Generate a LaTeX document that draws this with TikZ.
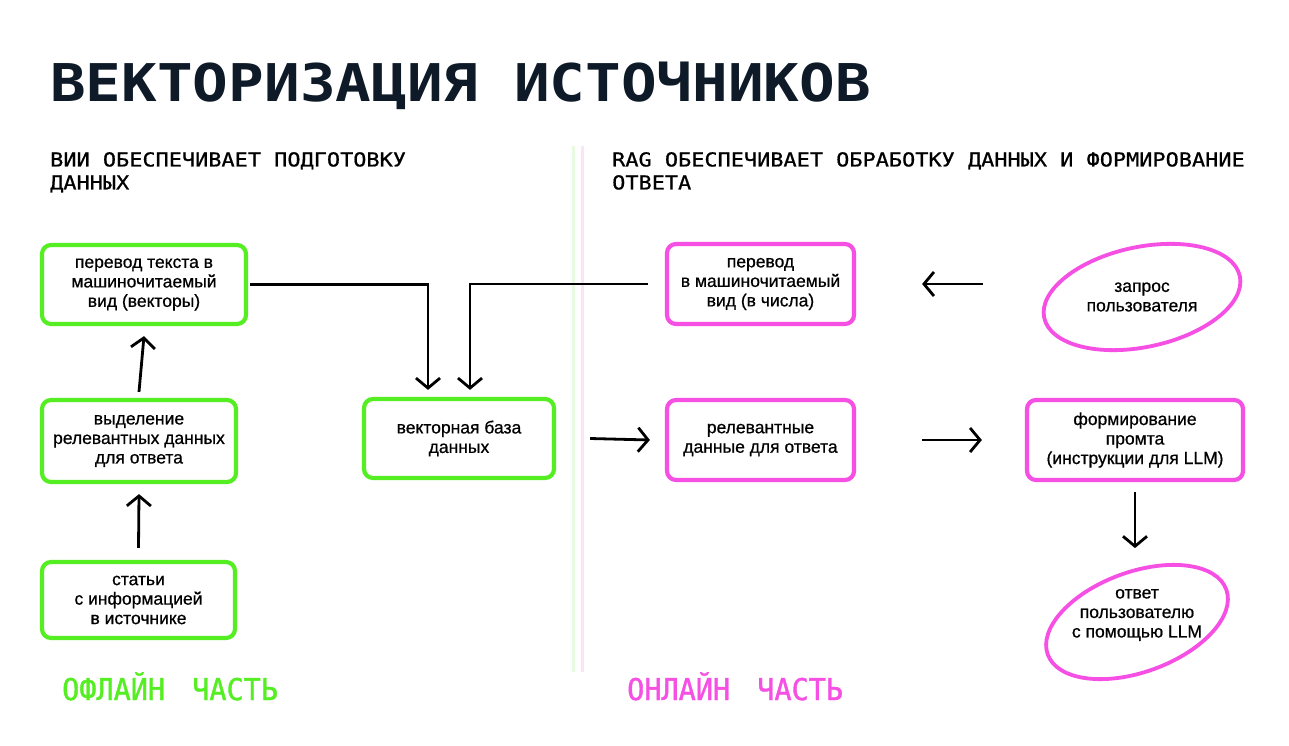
\documentclass[tikz,border=0pt]{standalone}
\usepackage{fontspec}
\setmainfont{Liberation Sans}[FakeBold=0.6]
\newfontfamily\nodefont{Liberation Sans}[FakeBold=0.7]
\newfontfamily\headfont{DejaVu Sans Mono}[FakeStretch=1.14,FakeBold=0.8]
\newfontfamily\titlefont{DejaVu Sans Mono Bold}[FakeStretch=1.14]
\newfontfamily\footfont{DejaVu Sans Mono}[FakeStretch=0.95,FakeBold=1.2]
\usetikzlibrary{arrows.meta,shapes.geometric}
\definecolor{hgreen}{HTML}{55EE22}
\definecolor{hpink}{HTML}{F54FE3}
\definecolor{navy}{HTML}{0E1A28}
\definecolor{lgreen}{HTML}{E8FBE2}
\definecolor{lpink}{HTML}{FCE3F8}
\begin{document}
\begin{tikzpicture}[x=1pt,y=-1pt,
  boxtext/.style={align=center,font=\nodefont\fontsize{17.5}{19.5}\selectfont,inner sep=0pt},
  gbox/.style={boxtext,draw=hgreen,line width=4.2pt,rounded corners=9pt},
  pbox/.style={boxtext,draw=hpink,line width=4.2pt,rounded corners=9pt},
  conn/.style={line width=2.8pt,-{Straight Barb[length=10pt,width=24pt,line width=2.8pt]}},
  heading/.style={anchor=north west,inner sep=0pt,align=left,font=\headfont\fontsize{19.2}{23}\selectfont},
 ]
\useasboundingbox[fill=white] (0,0) rectangle (1289,746);

% dividers
\draw[lgreen,line width=3pt] (573,146) -- (573,672);
\draw[lpink,line width=3pt] (582,146) -- (582,672);

% title and headings
\node[anchor=north west,inner sep=0pt,text=navy,font=\titlefont\fontsize{52}{60}\selectfont] (title) at (50,62) {ВЕКТОРИЗАЦИЯ ИСТОЧНИКОВ};
\node[heading] (hl) at (50,152) {ВИИ ОБЕСПЕЧИВАЕТ ПОДГОТОВКУ\\ДАННЫХ};
\node[heading] (hr) at (612,152) {RAG ОБЕСПЕЧИВАЕТ ОБРАБОТКУ ДАННЫХ И ФОРМИРОВАНИЕ\\ОТВЕТА};
\node[anchor=north west,inner sep=0pt,text=hgreen,font=\footfont\fontsize{30}{34}\selectfont] (fl) at (62,672) {ОФЛАЙН\hspace{10pt} ЧАСТЬ};
\node[anchor=north west,inner sep=0pt,text=hpink,font=\footfont\fontsize{30}{34}\selectfont] (fr) at (627,672) {ОНЛАЙН\hspace{10pt} ЧАСТЬ};

% green boxes
\node[gbox,minimum width=204,minimum height=79] (A) at (144,284.5) {перевод текста в\\машиночитаемый\\вид (векторы)};
\node[gbox,minimum width=194,minimum height=82] (B) at (139,441) {выделение\\релевантных данных\\для ответа};
\node[gbox,minimum width=193,minimum height=76] (C) at (138.5,600) {статьи\\с информацией\\в источнике};
\node[gbox,minimum width=190,minimum height=79] (D) at (459,438.5) {векторная база\\данных};

% pink boxes
\node[pbox,minimum width=187,minimum height=80] (E) at (760.5,284) {перевод\\в машиночитаемый\\вид (в числа)};
\node[pbox,minimum width=187,minimum height=80] (F) at (760.5,440) {релевантные\\данные для ответа};
\node[pbox,minimum width=216,minimum height=80] (G) at (1135,440) {формирование\\промта\\(инструкции для LLM)};

% ellipses
\node[ellipse,draw=hpink,line width=3.8pt,inner sep=0pt,minimum width=200,minimum height=100,rotate=12] (H) at (1142,297) {};
\node[boxtext] (Ht) at (H.center) {запрос\\пользователя};
\node[ellipse,draw=hpink,line width=3.8pt,inner sep=0pt,minimum width=190,minimum height=100,rotate=20] (I) at (1137,622) {};
\node[boxtext] (It) at ([yshift=7]I.center) {ответ\\пользователю\\с помощью LLM};

% connectors
\draw[conn] ([yshift=12]C.north) -- ([yshift=-10]B.south);
\draw[conn] ([yshift=6]B.north) -- ([yshift=-10]A.south);
\draw[conn] ([xshift=2]A.east) -| ([xshift=-31,yshift=7]D.north);
\draw[conn] ([xshift=-17]E.west) -| ([xshift=11,yshift=7]D.north);
\draw[conn] ([xshift=34]D.east) -- ([xshift=-15]F.west);
\draw[conn] ([xshift=127]E.east) -- ([xshift=66]E.east);
\draw[conn] ([xshift=66]F.east) -- ([xshift=-43]G.west);
\draw[conn] ([yshift=-10]G.south) -- ([yshift=-66]G.south);
\end{tikzpicture}
\end{document}
